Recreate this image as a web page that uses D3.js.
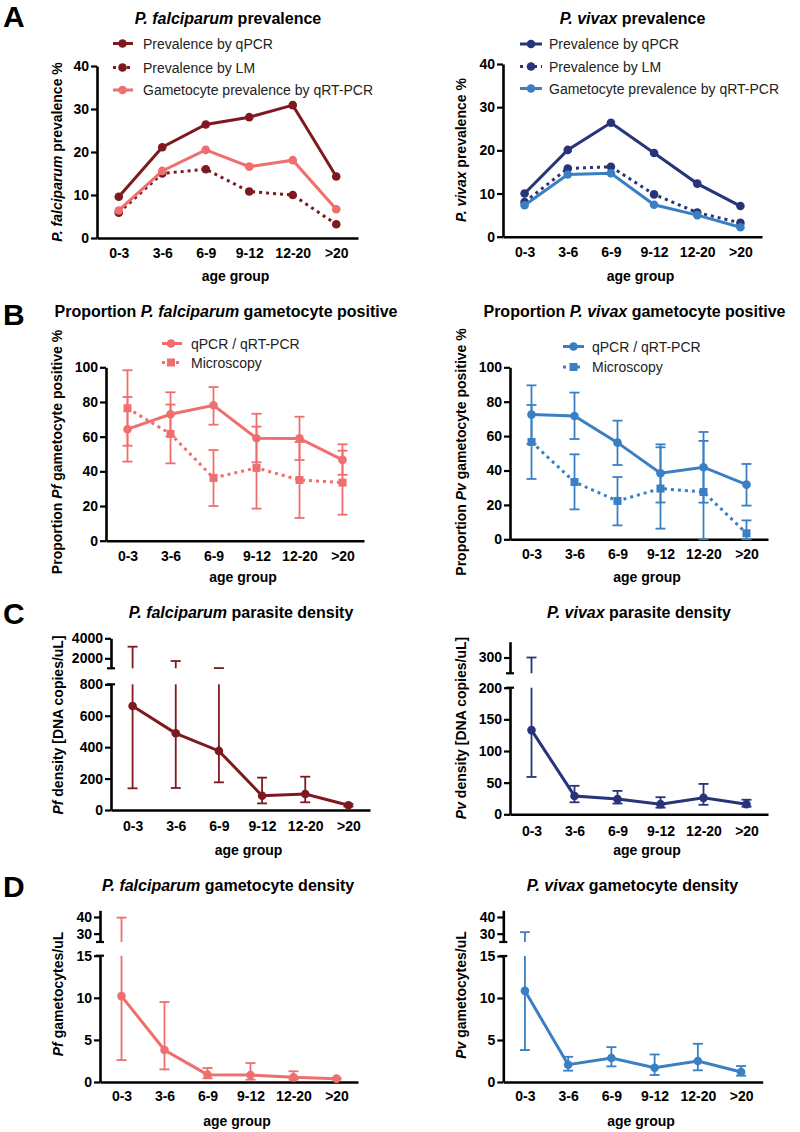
<!DOCTYPE html>
<html><head><meta charset="utf-8">
<script src="https://cdn.jsdelivr.net/npm/d3@7"></script>
<style>
body{margin:0;background:#fff;}
svg{display:block;font-family:Arial,"Liberation Sans",Helvetica,sans-serif;}
</style></head><body>
<svg id="c" width="800" height="1132"></svg>
<script>
// ---------------- DATA ----------------
const ageGroups = ["0-3", "3-6", "6-9", "9-12", "12-20", ">20"];

// A: prevalence (%)
const pfPrevQpcr   = [9.6, 21.1, 26.4, 28.1, 30.9, 14.3];
const pfPrevLM     = [5.9, 15.0, 16.0, 10.8, 10.0, 3.2];
const pfGamPrevQrt = [6.4, 15.6, 20.5, 16.6, 18.1, 6.7];
const pvPrevQpcr   = [10.0, 20.1, 26.4, 19.4, 12.3, 7.1];
const pvPrevLM     = [8.0, 15.8, 16.2, 9.8, 5.6, 3.2];
const pvGamPrevQrt = [7.3, 14.4, 14.7, 7.4, 5.0, 2.2];
const prevTicks = [0, 10, 20, 30, 40];

// B: proportion gametocyte positive (%)
const pfPropQpcr      = [64.3, 72.9, 78.1, 59.1, 59.0, 46.6];
const pfPropQpcrLow   = [45.6, 60.2, 66.9, 45.2, 46.5, 38.0];
const pfPropQpcrHigh  = [82.9, 85.6, 88.6, 73.2, 71.5, 55.6];
const pfPropMicro     = [76.4, 61.6, 36.2, 42.0, 35.0, 33.5];
const pfPropMicroLow  = [54.8, 44.6, 20.0, 18.5, 13.1, 15.0];
const pfPropMicroHigh = [98.3, 78.5, 52.3, 65.8, 56.9, 51.9];
const pvPropQpcr      = [72.5, 71.7, 56.2, 38.4, 41.9, 31.8];
const pvPropQpcrLow   = [55.5, 58.3, 43.2, 21.4, 21.3, 19.6];
const pvPropQpcrHigh  = [89.5, 85.3, 69.0, 55.2, 62.4, 43.8];
const pvPropMicro     = [56.6, 33.3, 22.3, 29.5, 27.5, 3.5];
const pvPropMicroLow  = [35.1, 17.4, 8.1, 6.2, 0, 0];
const pvPropMicroHigh = [78.1, 49.4, 36.2, 53.5, 57.2, 11.0];
const propTicks = [0, 20, 40, 60, 80, 100];

// C: parasite density (DNA copies/uL)
const pfDens     = [662, 488, 376, 91, 102, 30];
const pfDensLow  = [138, 140, 176, 42, 49, 22];
const pfDensHigh = [3160, 1730, 1020, 206, 212, 38];
const pfDensTicksLower = [0, 200, 400, 600, 800];
const pfDensTicksUpper = [2000, 4000];
const pvDens     = [133, 29, 24, 16, 26, 16];
const pvDensLow  = [59, 19, 17, 10.5, 15, 12];
const pvDensHigh = [300, 45, 37, 27, 48, 23];
const pvDensTicksLower = [0, 50, 100, 150, 200];
const pvDensTicksUpper = [300];

// D: gametocyte density (gametocytes/uL)
const pfGam     = [10.2, 3.8, 0.87, 0.83, 0.55, 0.4];
const pfGamLow  = [2.6, 1.5, 0.44, 0.28, 0.28, 0.3];
const pfGamHigh = [39.6, 9.5, 1.66, 2.25, 1.27, 0.5];
const pvGam     = [10.85, 2.06, 2.85, 1.7, 2.5, 1.19];
const pvGamLow  = [3.8, 1.35, 1.86, 0.83, 1.39, 0.75];
const pvGamHigh = [30.9, 3.0, 4.15, 3.28, 4.55, 1.9];
const gamTicksLower = [0, 5, 10, 15];
const gamTicksUpper = [30, 40];

// ---------------- STYLE ----------------
const darkRed = "#7e1a1f", coral = "#ef6e6e", navy = "#27347a", blue = "#3a7fc3";
const tickFont = 14;

const svg = d3.select("#c");

function labelParts(sel, parts) {
  parts.forEach(p => sel.append("tspan").attr("font-style", p[1] ? "italic" : "normal").text(p[0]));
}

function drawMarker(g, type, cx, cy, color) {
  if (type === "square") {
    g.append("rect").attr("x", cx - 4).attr("y", cy - 4).attr("width", 8).attr("height", 8).attr("fill", color);
  } else {
    g.append("circle").attr("cx", cx).attr("cy", cy).attr("r", 4.3).attr("fill", color);
  }
}

function drawPanel(p) {
  const g = svg.append("g");
  const x = d3.scalePoint().domain(ageGroups).range([p.x0, p.x1]).padding(0.5);
  const segs = p.segs.map(s => ({...s, scale: d3.scaleLinear().domain(s.domain).range(s.range)}));
  const lower = segs[0], upper = segs[1];
  const lowMax = lower.domain[1];
  const yPos = v => (!upper || v <= lowMax) ? lower.scale(v) : upper.scale(Math.max(v, upper.domain[0]));

  // axes
  segs.forEach((s, k) => {
    const ax = g.append("g").attr("transform", `translate(${p.x0},0)`)
      .call(d3.axisLeft(s.scale).tickValues(s.ticks).tickFormat(d3.format("d"))
        .tickSize(6).tickSizeOuter(0).tickPadding(2));
    ax.select(".domain").attr("stroke", "#000").attr("stroke-width", 2.6);
    ax.selectAll(".tick line").attr("stroke", "#000").attr("stroke-width", 2.2);
    ax.selectAll(".tick text").attr("font-size", tickFont).attr("font-weight", "bold").attr("fill", "#000")
      .attr("font-family", "Arial,'Liberation Sans',sans-serif");
    if (upper) {
      const yy = k === 0 ? s.range[1] : s.range[0];
      g.append("line").attr("x1", p.x0 - 4).attr("x2", p.x0 + 4).attr("y1", yy).attr("y2", yy)
        .attr("stroke", "#000").attr("stroke-width", 2.2);
    }
  });
  const xb = lower.range[0];
  const axx = g.append("g").attr("transform", `translate(0,${xb})`)
    .call(d3.axisBottom(x).tickSize(0).tickSizeOuter(0).tickPadding(p.xPad));
  axx.select(".domain").attr("stroke", "#000").attr("stroke-width", 2.6);
  axx.selectAll(".tick text").attr("font-size", tickFont).attr("font-weight", "bold").attr("fill", "#000")
    .attr("font-family", "Arial,'Liberation Sans',sans-serif");

  // error bars
  p.series.forEach(s => {
    if (!s.low) return;
    const capW = 5;
    ageGroups.forEach((a, i) => {
      const cx = x(a), lo = s.low[i], hi = s.high[i];
      const topLow = Math.min(hi, lowMax);
      const ln = (x1, x2, y1, y2) => g.append("line").attr("x1", x1).attr("x2", x2).attr("y1", y1).attr("y2", y2)
        .attr("stroke", s.color).attr("stroke-width", 1.8);
      ln(cx, cx, lower.scale(lo), lower.scale(topLow));
      ln(cx - capW, cx + capW, lower.scale(lo), lower.scale(lo));
      if (hi <= lowMax) {
        ln(cx - capW, cx + capW, lower.scale(hi), lower.scale(hi));
      } else if (upper && hi >= upper.domain[0]) {
        ln(cx, cx, upper.scale(upper.domain[0]), upper.scale(hi));
        ln(cx - capW, cx + capW, upper.scale(hi), upper.scale(hi));
      }
    });
  });
  // lines + markers
  p.series.forEach(s => {
    const line = d3.line().x((d, i) => x(ageGroups[i])).y(d => yPos(d));
    g.append("path").attr("d", line(s.values)).attr("fill", "none").attr("stroke", s.color)
      .attr("stroke-width", 3).attr("stroke-dasharray", s.dash ? "3,4" : null);
    s.values.forEach((v, i) => drawMarker(g, s.marker, x(ageGroups[i]), yPos(v), s.color));
  });

  // title
  const t = g.append("text").attr("x", p.titleX).attr("y", p.titleY).attr("text-anchor", "middle")
    .attr("font-size", 16).attr("font-weight", "bold");
  labelParts(t, p.title);
  // y label
  const yl = g.append("text").attr("transform", `translate(${p.ylX},${p.ylY}) rotate(-90)`)
    .attr("text-anchor", "middle").attr("font-size", 14).attr("font-weight", "bold");
  labelParts(yl, p.ylabel);
  // x label
  g.append("text").attr("x", (p.x0 + p.x1) / 2 + 8).attr("y", p.ageY).attr("text-anchor", "middle")
    .attr("font-size", 14).attr("font-weight", "bold").text("age group");

  // legend
  if (p.legend) {
    p.legend.rows.forEach((r, k) => {
      const s = p.series[k];
      g.append("line").attr("x1", p.legend.lx1).attr("x2", p.legend.lx2).attr("y1", r.y).attr("y2", r.y)
        .attr("stroke", s.color).attr("stroke-width", 3).attr("stroke-dasharray", s.dash ? "3,4" : null);
      drawMarker(g, s.marker, p.legend.mx, r.y, s.color);
      g.append("text").attr("x", p.legend.tx).attr("y", r.y).attr("dominant-baseline", "central")
        .attr("font-size", 14).attr("fill", "#222").text(r.text);
    });
  }
}

// panel letters
[["A", 27], ["B", 325], ["C", 624], ["D", 897]].forEach(([l, y]) =>
  svg.append("text").attr("x", 3).attr("y", y).attr("font-size", 30).attr("font-weight", "bold").text(l));

// ---------------- PANELS ----------------
drawPanel({
  x0: 97, x1: 358, xPad: 10,
  segs: [{domain: [0, 40], range: [238, 66], ticks: prevTicks}],
  series: [
    {values: pfPrevQpcr, color: darkRed, marker: "circle"},
    {values: pfPrevLM, color: darkRed, marker: "circle", dash: true},
    {values: pfGamPrevQrt, color: coral, marker: "circle"}
  ],
  title: [["P. falciparum", true], [" prevalence", false]], titleX: 228, titleY: 24,
  ylabel: [["P. falciparum", true], [" prevalence %", false]], ylX: 62, ylY: 152,
  ageY: 281,
  legend: {lx1: 113, lx2: 133, mx: 122.5, tx: 143,
    rows: [{y: 43.5, text: "Prevalence by qPCR"}, {y: 67.5, text: "Prevalence by LM"}, {y: 90, text: "Gametocyte prevalence by qRT-PCR"}]}
});
drawPanel({
  x0: 503, x1: 762, xPad: 10,
  segs: [{domain: [0, 40], range: [236.7, 64], ticks: prevTicks}],
  series: [
    {values: pvPrevQpcr, color: navy, marker: "circle"},
    {values: pvPrevLM, color: navy, marker: "circle", dash: true},
    {values: pvGamPrevQrt, color: blue, marker: "circle"}
  ],
  title: [["P. vivax", true], [" prevalence", false]], titleX: 632.5, titleY: 24,
  ylabel: [["P. vivax", true], [" prevalence %", false]], ylX: 466, ylY: 150,
  ageY: 281,
  legend: {lx1: 520, lx2: 542, mx: 531, tx: 549,
    rows: [{y: 44, text: "Prevalence by qPCR"}, {y: 66.5, text: "Prevalence by LM"}, {y: 88.5, text: "Gametocyte prevalence by qRT-PCR"}]}
});
drawPanel({
  x0: 106, x1: 364, xPad: 10,
  segs: [{domain: [0, 100], range: [540.7, 367.3], ticks: propTicks}],
  series: [
    {values: pfPropQpcr, low: pfPropQpcrLow, high: pfPropQpcrHigh, color: coral, marker: "circle"},
    {values: pfPropMicro, low: pfPropMicroLow, high: pfPropMicroHigh, color: coral, marker: "square", dash: true}
  ],
  title: [["Proportion ", false], ["P. falciparum", true], [" gametocyte positive", false]], titleX: 226, titleY: 317,
  ylabel: [["Proportion ", false], ["Pf", true], [" gametocyte positive %", false]], ylX: 62, ylY: 452,
  ageY: 582,
  legend: {lx1: 162, lx2: 182, mx: 171, tx: 191,
    rows: [{y: 343.5, text: "qPCR / qRT-PCR"}, {y: 362.5, text: "Microscopy"}]}
});
drawPanel({
  x0: 510, x1: 768, xPad: 10,
  segs: [{domain: [0, 100], range: [539.3, 367.3], ticks: propTicks}],
  series: [
    {values: pvPropQpcr, low: pvPropQpcrLow, high: pvPropQpcrHigh, color: blue, marker: "circle"},
    {values: pvPropMicro, low: pvPropMicroLow, high: pvPropMicroHigh, color: blue, marker: "square", dash: true}
  ],
  title: [["Proportion ", false], ["P. vivax", true], [" gametocyte positive", false]], titleX: 634.5, titleY: 317,
  ylabel: [["Proportion ", false], ["Pv", true], [" gametocyte positive %", false]], ylX: 466, ylY: 452,
  ageY: 582,
  legend: {lx1: 563, lx2: 584, mx: 573.5, tx: 592,
    rows: [{y: 346.5, text: "qPCR / qRT-PCR"}, {y: 367, text: "Microscopy"}]}
});
drawPanel({
  x0: 111, x1: 370, xPad: 11.5,
  segs: [
    {domain: [0, 800], range: [810, 684.3], ticks: pfDensTicksLower},
    {domain: [1000, 4000], range: [668.3, 638.3], ticks: pfDensTicksUpper}
  ],
  series: [{values: pfDens, low: pfDensLow, high: pfDensHigh, color: darkRed, marker: "circle"}],
  title: [["P. falciparum", true], [" parasite density", false]], titleX: 241, titleY: 617.5,
  ylabel: [["Pf", true], [" density [DNA copies/uL]", false]], ylX: 63, ylY: 725,
  ageY: 855
});
drawPanel({
  x0: 510, x1: 768, xPad: 11.5,
  segs: [
    {domain: [0, 200], range: [814.3, 687.7], ticks: pvDensTicksLower},
    {domain: [275, 325], range: [673.3, 641.7], ticks: pvDensTicksUpper}
  ],
  series: [{values: pvDens, low: pvDensLow, high: pvDensHigh, color: navy, marker: "circle"}],
  title: [["P. vivax", true], [" parasite density", false]], titleX: 639, titleY: 618,
  ylabel: [["Pv", true], [" density [DNA copies/uL]", false]], ylX: 466, ylY: 728,
  ageY: 855
});
drawPanel({
  x0: 100, x1: 358, xPad: 9.5,
  segs: [
    {domain: [0, 15], range: [1082, 955.7], ticks: gamTicksLower},
    {domain: [25, 44], range: [942, 910.3], ticks: gamTicksUpper}
  ],
  series: [{values: pfGam, low: pfGamLow, high: pfGamHigh, color: coral, marker: "circle"}],
  title: [["P. falciparum", true], [" gametocyte density", false]], titleX: 228, titleY: 891,
  ylabel: [["Pf", true], [" gametocytes/uL", false]], ylX: 63, ylY: 994,
  ageY: 1126
});
drawPanel({
  x0: 503.3, x1: 762.7, xPad: 9.5,
  segs: [
    {domain: [0, 15], range: [1082, 956], ticks: gamTicksLower},
    {domain: [25, 44], range: [942, 910.3], ticks: gamTicksUpper}
  ],
  series: [{values: pvGam, low: pvGamLow, high: pvGamHigh, color: blue, marker: "circle"}],
  title: [["P. vivax", true], [" gametocyte density", false]], titleX: 632.5, titleY: 891,
  ylabel: [["Pv", true], [" gametocytes/uL", false]], ylX: 466, ylY: 995,
  ageY: 1126
});
</script>
</body></html>
